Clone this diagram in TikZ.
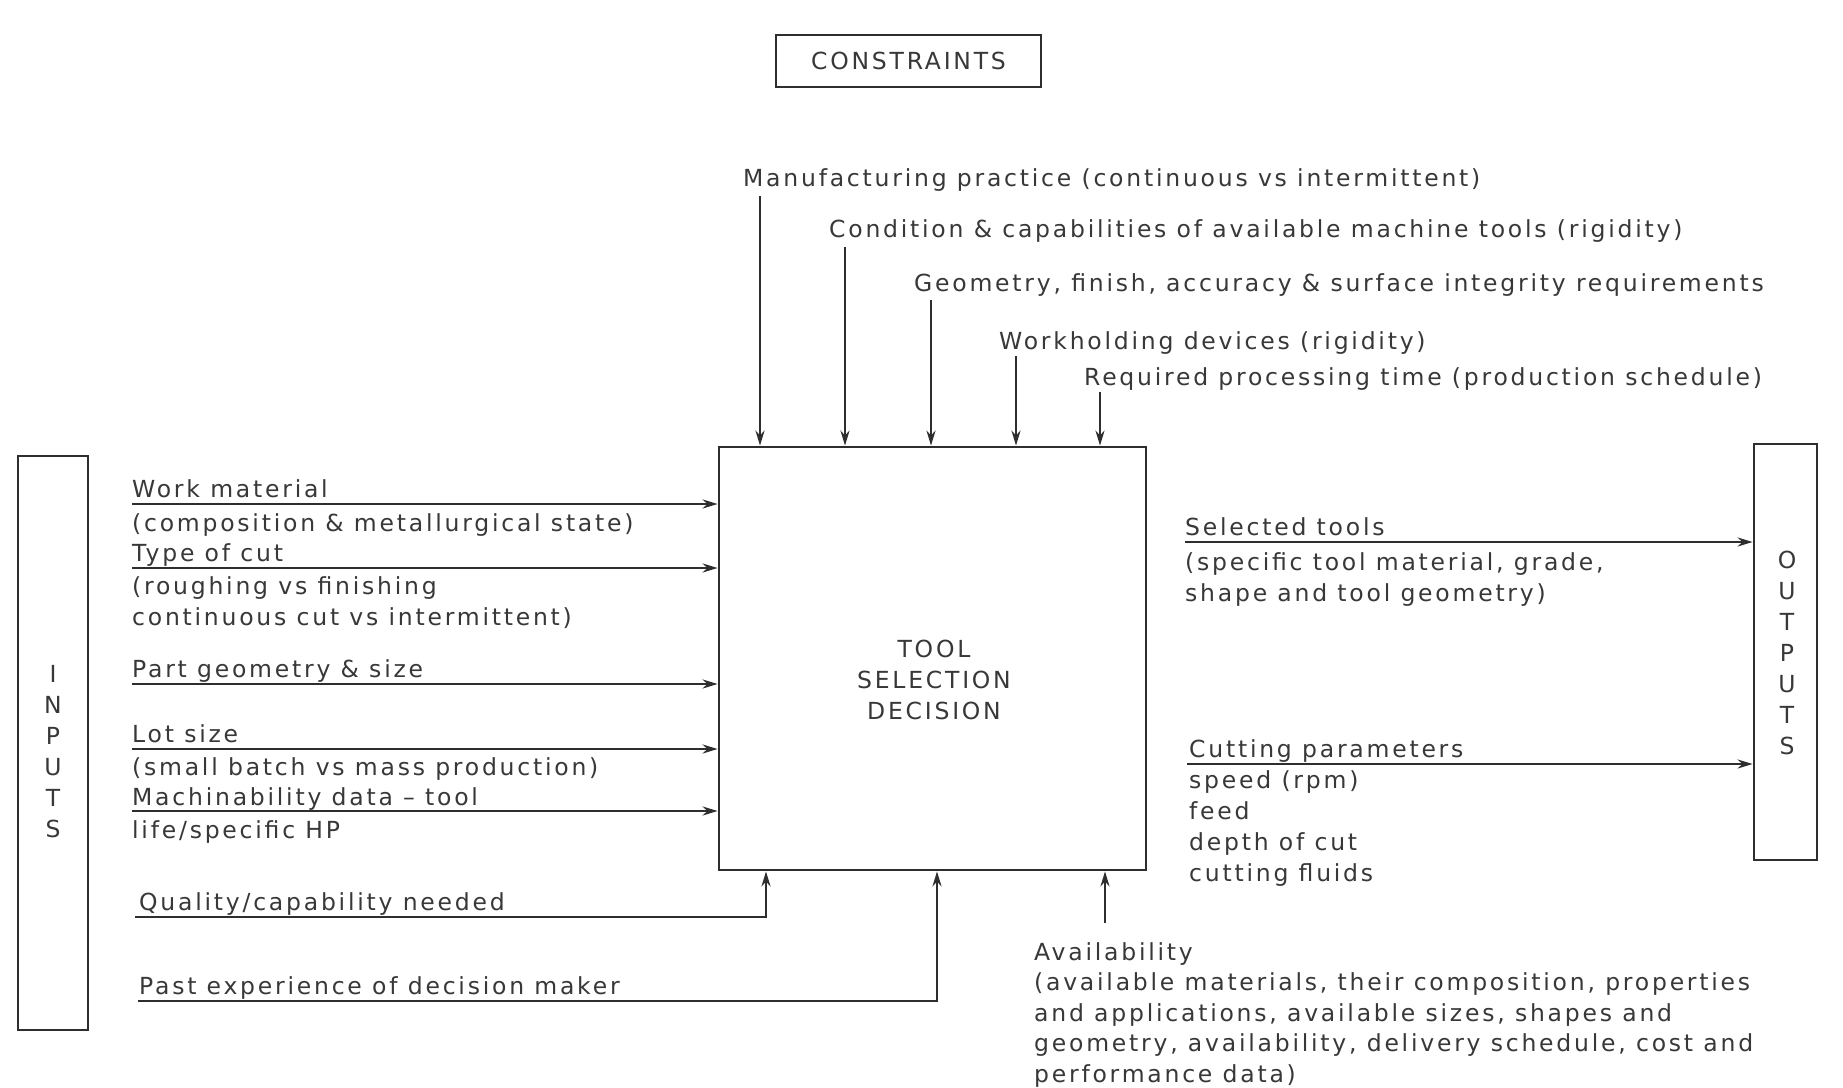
\documentclass[tikz,border=0pt]{standalone}
\usepackage{fontspec}
\setmainfont{DejaVu Sans}[LetterSpace=11.8]
\usetikzlibrary{arrows.meta}
\definecolor{ink}{gray}{0.18}
\definecolor{txt}{gray}{0.22}
\newcommand\lblfont{\fontsize{23.5}{31}\selectfont}
\begin{document}
\begin{tikzpicture}[x=1pt,y={(0pt,-1pt)},
  lbl/.style={anchor=base west,inner sep=0pt,font=\lblfont,text=txt},
  caps/.style={inner sep=0pt,font=\lblfont,text=txt,align=center},
  frame/.style={draw=ink,line width=2.8pt,inner sep=0pt},
  feed/.style={draw=ink,line width=2.4pt,-{Stealth[length=15pt,width=9pt]}},
  wire/.style={draw=ink,line width=2.4pt}]
\useasboundingbox[fill=white] (0,0) rectangle (1843,1087);

% boxes
\node[frame,minimum width=265pt,minimum height=52pt] (cons) at (908.5,61) {};
\node[caps] (constxt) at (cons.center) {CONSTRAINTS};
\node[frame,minimum width=427pt,minimum height=423pt] (tsd) at (932.5,658.5) {};
\node[caps] (tsdtxt) at (934,680) {TOOL\\SELECTION\\DECISION};
\node[frame,minimum width=70pt,minimum height=574pt] (inp) at (53,743) {};
\node[caps] (inptxt) at (53,752) {I\\N\\P\\U\\T\\S};
\node[frame,minimum width=63pt,minimum height=416pt] (outp) at (1785.5,652) {};
\node[caps] (outtxt) at (1787,653) {O\\U\\T\\P\\U\\T\\S};

% constraints
\node[lbl] (c1) at (743,186) {Manufacturing practice (continuous vs intermittent)};
\node[lbl] (c2) at (829,237) {Condition \& capabilities of available machine tools (rigidity)};
\node[lbl] (c3) at (914,291) {Geometry, finish, accuracy \& surface integrity requirements};
\node[lbl] (c4) at (999,349) {Workholding devices (rigidity)};
\node[lbl] (c5) at (1084,385) {Required processing time (production schedule)};
\coordinate (s1) at (760,196);
\coordinate (s2) at (845,247);
\coordinate (s3) at (931,300);
\coordinate (s4) at (1016,356);
\coordinate (s5) at (1100,392);
\foreach \s in {s1,s2,s3,s4,s5} \draw[feed] (\s) -- (\s |- tsd.north);

% inputs
\coordinate (i1) at (132,504);
\coordinate (i2) at (132,568);
\coordinate (i3) at (132,684);
\coordinate (i4) at (132,749);
\coordinate (i5) at (132,811);
\foreach \s in {i1,i2,i3,i4,i5} \draw[feed] (\s) -- (\s -| tsd.west);
\node[lbl] (w1) at (132,497) {Work material};
\node[lbl] (w2) at (132,531) {(composition \& metallurgical state)};
\node[lbl] (t1) at (132,561) {Type of cut};
\node[lbl] (t2) at (132,594) {(roughing vs finishing};
\node[lbl] (t3) at (132,625) {continuous cut vs intermittent)};
\node[lbl] (p1) at (132,677) {Part geometry \& size};
\node[lbl] (l1) at (132,742) {Lot size};
\node[lbl] (l2) at (132,775) {(small batch vs mass production)};
\node[lbl] (m1) at (132,805) {Machinability data -- tool};
\node[lbl] (m2) at (132,838) {life/specific HP};

\coordinate (q0) at (135,917);
\coordinate (q1) at (766,917);
\draw[feed] (q0) -- (q1) -- (q1 |- tsd.south);
\node[lbl] (qt) at (139,910) {Quality/capability needed};
\coordinate (e0) at (138,1001);
\coordinate (e1) at (937,1001);
\draw[feed] (e0) -- (e1) -- (e1 |- tsd.south);
\node[lbl] (et) at (139,994) {Past experience of decision maker};

% availability
\coordinate (a0) at (1105,923);
\draw[feed] (a0) -- (a0 |- tsd.south);
\node[lbl] (a1) at (1034,960) {Availability};
\node[lbl] (a2) at (1034,990) {(available materials, their composition, properties};
\node[lbl] (a3) at (1034,1021) {and applications, available sizes, shapes and};
\node[lbl] (a4) at (1034,1051) {geometry, availability, delivery schedule, cost and};
\node[lbl] (a5) at (1034,1082) {performance data)};

% outputs
\coordinate (o1) at (1185,542);
\coordinate (o2) at (1187,764);
\draw[feed] (o1) -- (o1 -| outp.west);
\draw[feed] (o2) -- (o2 -| outp.west);
\node[lbl] (st1) at (1185,535) {Selected tools};
\node[lbl] (st2) at (1185,570) {(specific tool material, grade,};
\node[lbl] (st3) at (1185,601) {shape and tool geometry)};
\node[lbl] (cp1) at (1189,757) {Cutting parameters};
\node[lbl] (cp2) at (1189,788) {speed (rpm)};
\node[lbl] (cp3) at (1189,819) {feed};
\node[lbl] (cp4) at (1189,850) {depth of cut};
\node[lbl] (cp5) at (1189,881) {cutting fluids};
\end{tikzpicture}
\end{document}
